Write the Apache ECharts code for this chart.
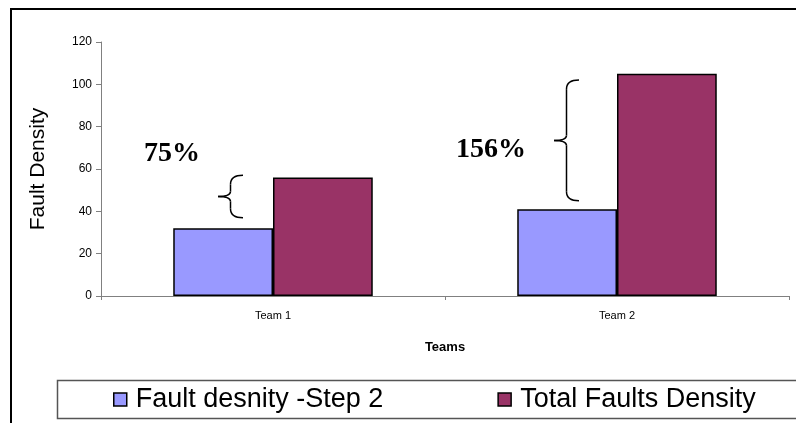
<!DOCTYPE html>
<html><head><meta charset="utf-8">
<script src="https://cdn.jsdelivr.net/npm/echarts@6/dist/echarts.min.js"></script>
<style>html,body{margin:0;padding:0;background:#fff}#c{width:796px;height:423px}</style>
</head><body><div id="c"></div>
<script>
const categories = ['Team 1', 'Team 2'];
const step2Values = [32, 41];
const totalValues = [56, 105];
const seriesNames = ['Fault desnity -Step 2', 'Total Faults Density'];
const percentLabels = ['75%', '156%'];
const braceTop = [57, 102];
const braceBottom = [37, 45];

const chart = echarts.init(document.getElementById('c'), null, {renderer: 'canvas'});
const option = {
  animation: false,
  backgroundColor: '#fff',
  grid: {left: 101, right: 7, top: 42, bottom: 127, containLabel: false},
  xAxis: {
    type: 'category', data: categories,
    name: 'Teams', nameLocation: 'middle', nameGap: 45,
    nameTextStyle: {fontFamily: 'Liberation Sans', fontSize: 13, fontWeight: 'bold', color: '#000'},
    axisLine: {lineStyle: {color: '#808080', width: 1}},
    axisTick: {show: true, length: 4, lineStyle: {color: '#808080'}},
    axisLabel: {fontFamily: 'Liberation Sans', fontSize: 11, color: '#000', margin: 14}
  },
  yAxis: {
    type: 'value', min: 0, max: 120, interval: 20,
    name: 'Fault Density', nameLocation: 'middle', nameGap: 52,
    nameTextStyle: {fontFamily: 'Liberation Sans', fontSize: 21, color: '#000'},
    axisLine: {show: true, lineStyle: {color: '#808080', width: 1}},
    axisTick: {show: true, length: 5, lineStyle: {color: '#808080'}},
    axisLabel: {fontFamily: 'Liberation Sans', fontSize: 12, color: '#000', margin: 9},
    splitLine: {show: false}
  },
  legend: {
    left: 113, top: 386,
    padding: 0,
    icon: 'rect',
    itemWidth: 13, itemHeight: 13, itemGap: 114,
    itemStyle: {borderColor: '#000', borderWidth: 1.5},
    textStyle: {fontFamily: 'Liberation Sans', fontSize: 27, color: '#000', padding: [0, 0, 0, 4]},
    data: seriesNames
  },
  series: [
    {name: seriesNames[0], type: 'bar', data: step2Values, barGap: '0%', barCategoryGap: '42%',
     itemStyle: {color: '#9999FF', borderColor: '#000', borderWidth: 1.5}},
    {name: seriesNames[1], type: 'bar', data: totalValues,
     itemStyle: {color: '#993366', borderColor: '#000', borderWidth: 1.5}}
  ]
};
chart.setOption(option);

// annotations
const braceOffsets = [[-55, -30], [-63, -38]];
const labelOffsets = [-101, -126];
const labelValues = [67, 69];
const g = [
  {type: 'line', shape: {x1: 10, y1: 9, x2: 796, y2: 9}, style: {stroke: '#000', lineWidth: 2}},
  {type: 'line', shape: {x1: 11, y1: 9, x2: 11, y2: 423}, style: {stroke: '#000', lineWidth: 2}},
  {type: 'rect', shape: {x: 57.5, y: 380.5, width: 760, height: 38}, style: {fill: null, stroke: '#555', lineWidth: 1.5}, z: -1}
];
const st = {stroke: '#000', lineWidth: 1.5, fill: null};
categories.forEach((c, i) => {
  const cx = chart.convertToPixel({xAxisIndex: 0}, c);
  const y1 = chart.convertToPixel({yAxisIndex: 0}, braceTop[i]);
  const y2 = chart.convertToPixel({yAxisIndex: 0}, braceBottom[i]);
  const ym = (y1 + y2) / 2;
  const xt = cx + braceOffsets[i][0], xr = cx + braceOffsets[i][1];
  const xm = (xt + xr) / 2;
  const r = 9, s = 5;
  g.push({type: 'bezierCurve', shape: {x1: xr, y1: y1, cpx1: xm, cpy1: y1, x2: xm, y2: y1 + r}, style: st});
  g.push({type: 'line', shape: {x1: xm, y1: y1 + r, x2: xm, y2: ym - s}, style: st});
  g.push({type: 'bezierCurve', shape: {x1: xm, y1: ym - s, cpx1: xm, cpy1: ym, x2: xt, y2: ym}, style: st});
  g.push({type: 'bezierCurve', shape: {x1: xt, y1: ym, cpx1: xm, cpy1: ym, x2: xm, y2: ym + s}, style: st});
  g.push({type: 'line', shape: {x1: xm, y1: ym + s, x2: xm, y2: y2 - r}, style: st});
  g.push({type: 'bezierCurve', shape: {x1: xm, y1: y2 - r, cpx1: xm, cpy1: y2, x2: xr, y2: y2}, style: st});
  const ly = chart.convertToPixel({yAxisIndex: 0}, labelValues[i]);
  g.push({type: 'text', x: cx + labelOffsets[i], y: ly,
    style: {text: percentLabels[i], font: 'bold 28px "Liberation Serif"', fill: '#000', align: 'center', verticalAlign: 'middle'}});
});
chart.setOption({graphic: g});
</script></body></html>
